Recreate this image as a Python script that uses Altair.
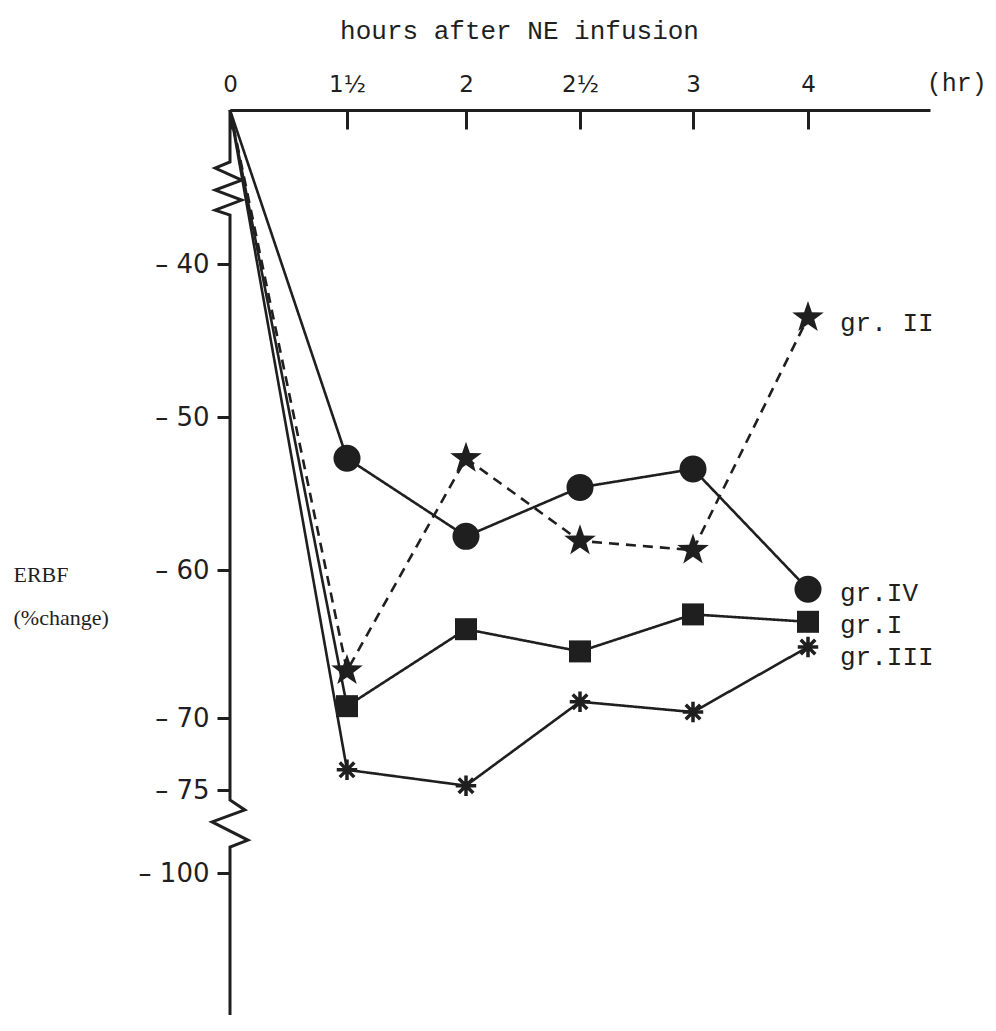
import math
import altair as alt
import pandas as pd

# ---------------- data ----------------
hours = [0, 1.5, 2, 2.5, 3, 4]
tick_labels = ["0", "1½", "2", "2½", "3", "4"]

gr_I = [0, -69.2, -64.0, -65.5, -63.0, -63.5]
gr_II = [0, -66.8, -52.7, -58.1, -58.7, -43.5]
gr_III = [0, -73.6, -74.7, -68.9, -69.6, -65.2]
gr_IV = [0, -52.7, -57.8, -54.6, -53.4, -61.3]

groups = ["gr.IV", "gr. II", "gr.I", "gr.III"]
series = {"gr.IV": gr_IV, "gr. II": gr_II, "gr.I": gr_I, "gr.III": gr_III}

y_ticks = [-40, -50, -60, -70, -75, -100]

# broken (piecewise) axes
x_breaks = [0, 1.5, 2, 2.5, 3, 4, 5]
x_px = [0, 117, 236, 350, 463, 578, 700]
y_breaks = [0, -40, -60, -70, -75, -100, -120]
y_px = [0, 154, 460, 608, 680, 763, 905]

# y-axis line with the two zig-zag break symbols
axis_x = [0, 0, -0.19, 0.15, -0.19, 0.15, -0.19, 0,
          0, 0.19, -0.23, 0.23, 0, 0]
axis_y = [0, -13.5, -15.1, -18.2, -20.8, -23.4, -26.0, -27.3,
          -78.0, -81.0, -84.6, -90.1, -92.2, -120]

# ---------------- styling ----------------
ink = "#1f1f1f"
W, H = 700, 905

pts = []
for k in range(10):
    ang = math.radians(-90 + 36 * k)
    r = 1 if k % 2 == 0 else 0.4
    pts.append(f"{r * math.cos(ang):.3f},{r * math.sin(ang):.3f}")
star_path = "M" + "L".join(pts) + "Z"
asterisk_path = ("M0,-1L0,1M-1,0L1,0M-0.71,-0.71L0.71,0.71"
                 "M-0.71,0.71L0.71,-0.71")

marker = {
    "gr.IV": dict(shape="circle", size=729, filled=True),
    "gr. II": dict(shape=star_path, size=1100, filled=True),
    "gr.I": dict(shape="square", size=484, filled=True),
    "gr.III": dict(shape=asterisk_path, size=420, filled=False),
}
label_dy = {"gr.IV": 4, "gr. II": 5, "gr.I": 3, "gr.III": 10}

# label expression built from the tick label list
expr = "datum.label"
for h, lab in zip(hours, tick_labels):
    expr = f"datum.value == {h} ? '{lab}' : ({expr})"

x_enc = alt.X(
    "t:Q",
    scale=alt.Scale(domain=x_breaks, range=x_px, nice=False, zero=False),
    axis=alt.Axis(
        orient="bottom", offset=-H, values=hours, labelExpr=expr,
        tickSize=19, tickWidth=3, tickColor=ink,
        domainWidth=3, domainColor=ink,
        labelPadding=-38, labelBaseline="alphabetic",
        labelFont="DejaVu Sans", labelFontSize=23, labelColor=ink,
        labelFlush=False, labelOverlap=False, grid=False,
        title="hours after NE infusion", titleX=289, titleY=-72,
        titleBaseline="alphabetic", titleAlign="center",
        titleFont="Liberation Mono", titleFontSize=26,
        titleFontWeight="normal", titleColor=ink,
    ),
)
y_enc = alt.Y(
    "v:Q",
    scale=alt.Scale(domain=y_breaks, range=y_px, nice=False, zero=False),
    axis=alt.Axis(
        orient="left", values=y_ticks,
        labelExpr="'\u2013 ' + abs(datum.value)",
        domain=False, tickSize=13, tickWidth=3, tickColor=ink,
        labelPadding=8, labelFont="DejaVu Sans", labelFontSize=26,
        labelColor=ink, labelFlush=False, labelOverlap=False, grid=False,
        title=["ERBF", "(%change)"], titleAngle=0, titleAlign="left",
        titleX=-217, titleY=471, titleBaseline="alphabetic",
        titleLineHeight=43, titleFont="Liberation Serif", titleFontSize=22,
        titleFontWeight="normal", titleColor=ink,
    ),
)

rows = []
for g in groups:
    for h, v in zip(hours, series[g]):
        rows.append({"group": g, "t": h, "v": v})
df = pd.DataFrame(rows)

axis_df = pd.DataFrame({"t": axis_x, "v": axis_y, "i": list(range(len(axis_x)))})

layers = []
layers.append(
    alt.Chart(axis_df).mark_line(color=ink, strokeWidth=3, strokeJoin="miter")
    .encode(x=x_enc, y=y_enc, order="i:Q")
)

for g in groups:
    sub = df[df.group == g]
    dash = [10, 7] if g == "gr. II" else [1, 0]
    layers.append(
        alt.Chart(sub).mark_line(color=ink, strokeWidth=2.6, strokeDash=dash)
        .encode(x=x_enc, y=y_enc)
    )

for g in groups:
    sub = df[(df.group == g) & (df.t > 0)]
    m = marker[g]
    if m["filled"]:
        mk = alt.Chart(sub).mark_point(shape=m["shape"], size=m["size"],
                                        filled=True, color=ink, opacity=1)
    else:
        mk = alt.Chart(sub).mark_point(shape=m["shape"], size=m["size"],
                                        filled=False, color=ink, strokeWidth=3.5,
                                        opacity=1)
    layers.append(mk.encode(x=x_enc, y=y_enc))

for g in groups:
    sub = df[(df.group == g) & (df.t == hours[-1])]
    layers.append(
        alt.Chart(sub).mark_text(align="left", baseline="middle", dx=32,
                                 dy=label_dy[g], font="Liberation Mono",
                                 fontSize=26, color=ink)
        .encode(x=x_enc, y=y_enc, text="group:N")
    )

hr_df = pd.DataFrame({"t": [5.22], "v": [0], "txt": ["(hr)"]})
layers.append(
    alt.Chart(hr_df).mark_text(align="center", baseline="alphabetic", dy=-19,
                               font="Liberation Mono", fontSize=25, color=ink)
    .encode(x=x_enc, y=y_enc, text="txt:N")
)

chart = alt.layer(*layers).properties(
    width=W, height=H,
    background="white",
    autosize=alt.AutoSizeParams(type="none"),
    padding={"left": 222, "top": 102, "right": 58, "bottom": 8},
).configure_view(strokeWidth=0, stroke="transparent")

chart.save("out.html", embed_options={"renderer": "svg", "actions": False})
